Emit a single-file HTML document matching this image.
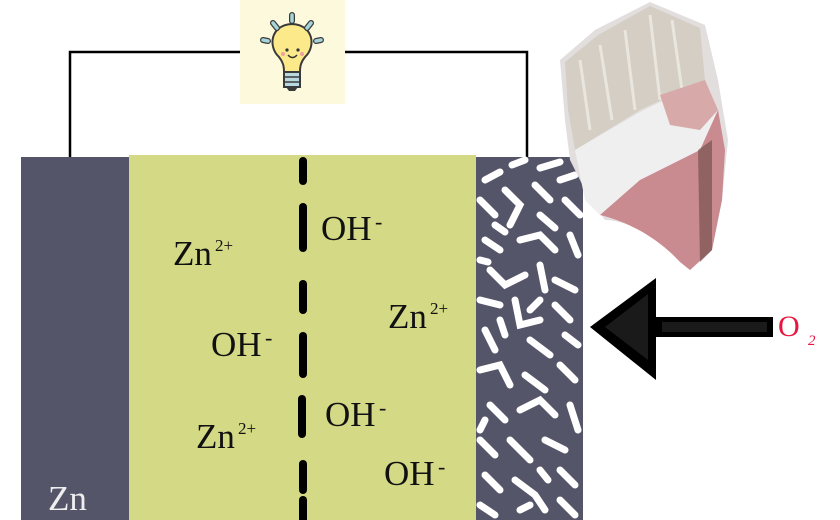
<!DOCTYPE html>
<html><head><meta charset="utf-8"><style>
html,body{margin:0;padding:0;background:#fff;}
body{width:840px;height:520px;overflow:hidden;position:relative;}
svg{position:absolute;left:0;top:0;}
</style></head><body>
<svg width="840" height="520" viewBox="0 0 840 520" xmlns="http://www.w3.org/2000/svg" font-family="Liberation Serif, serif">
<!-- wires -->
<polyline points="70,157 70,52 240,52" fill="none" stroke="#000" stroke-width="2.5"/>
<polyline points="345,52 527,52 527,157" fill="none" stroke="#000" stroke-width="2.5"/>
<!-- bulb box -->
<rect x="240" y="0" width="105" height="104" fill="#fdf9dc"/>
<g stroke="#3a3a3a" stroke-width="2">
<path d="M279,57 C268,47 270,25 292,24 C314,25 316,47 305,57 C301,62 300,66 300,72 L284,72 C284,66 283,62 279,57 Z" fill="#fbe98a"/>
<rect x="284" y="72" width="16" height="15" fill="#b8d8e2"/>
</g>
<g stroke="#3a3a3a" stroke-width="1.5">
<line x1="284" y1="77" x2="300" y2="77"/><line x1="284" y1="82" x2="300" y2="82"/></g>
<path d="M286,87 L298,87 L295,91 L289,91 Z" fill="#3a3a3a"/>
<circle cx="287" cy="50" r="1.6" fill="#333"/><circle cx="298" cy="50" r="1.6" fill="#333"/>
<path d="M288,55 Q292.5,60 297,55" fill="none" stroke="#333" stroke-width="1.5"/>
<circle cx="283" cy="54" r="2" fill="#f0a0a0"/><circle cx="302" cy="54" r="2" fill="#f0a0a0"/>
<g stroke="#3a3a3a" stroke-width="6" stroke-linecap="round"><line x1="292" y1="15" x2="292" y2="21"/><line x1="273" y1="23" x2="277" y2="28"/><line x1="311" y1="23" x2="307" y2="28"/><line x1="263" y1="40" x2="268" y2="41"/><line x1="321" y1="40" x2="316" y2="41"/></g>
<g stroke="#a6d4d8" stroke-width="3.5" stroke-linecap="round"><line x1="292" y1="15" x2="292" y2="21"/><line x1="273" y1="23" x2="277" y2="28"/><line x1="311" y1="23" x2="307" y2="28"/><line x1="263" y1="40" x2="268" y2="41"/><line x1="321" y1="40" x2="316" y2="41"/></g>
<!-- plates -->
<rect x="21" y="157" width="108" height="363" fill="#555569"/>
<rect x="129" y="155" width="347" height="365" fill="#d3d985"/>
<rect x="476" y="157" width="107" height="363" fill="#555569"/>
<!-- porous pattern -->
<g stroke="#fff" stroke-width="7" stroke-linecap="round" fill="none">
<path d="M485,180 L500,172 M512,165 L525,160 M540,168 L560,162 M480,200 L495,215 M505,190 L520,205 L510,225 M535,185 L550,200 M560,180 L575,175 M565,200 L580,215 M485,240 L500,250 M520,240 L540,235 L555,250 M570,235 L578,255 M490,270 L505,285 L525,275 M540,265 L545,290 M555,280 L575,290 M480,300 L500,305 M515,300 L520,325 L540,320 M555,305 L570,320 M485,330 L495,350 M530,340 L550,355 M565,335 L578,345 M480,370 L500,365 L510,385 M525,375 L545,390 M560,365 L575,380 M490,405 L505,420 M520,410 L540,400 L555,415 M570,405 L578,430 M480,440 L495,455 M510,440 L530,460 M545,440 L565,450 M485,475 L500,490 M515,480 L535,495 L545,510 M560,470 L575,485 M480,505 L495,515 M560,500 L575,515 M500,320 L505,335 M540,215 L555,228 M495,225 L505,232 M480,260 L488,262 M530,310 L540,300 M485,420 L480,430 M540,470 L548,480 M520,510 L530,505"/>
</g>
<!-- dashed separator -->
<g stroke="#000" stroke-width="8" stroke-linecap="round">
<line x1="303" y1="161" x2="303" y2="181"/><line x1="303" y1="207" x2="303" y2="248"/><line x1="303" y1="284" x2="303" y2="310"/><line x1="303" y1="336" x2="303" y2="374"/><line x1="302" y1="399" x2="302" y2="434"/><line x1="303" y1="464" x2="303" y2="490"/><line x1="303" y1="500" x2="303" y2="522"/>
</g>
<!-- labels -->
<g font-size="35" fill="#111">
<text x="173" y="265">Zn</text><text x="215" y="251" font-size="17">2+</text>
<text x="321" y="240">OH</text><text x="375" y="229" font-size="22">-</text>
<text x="388" y="328">Zn</text><text x="430" y="314" font-size="17">2+</text>
<text x="211" y="356">OH</text><text x="265" y="345" font-size="22">-</text>
<text x="325" y="426">OH</text><text x="379" y="415" font-size="22">-</text>
<text x="196" y="448">Zn</text><text x="238" y="434" font-size="17">2+</text>
<text x="384" y="485">OH</text><text x="438" y="474" font-size="22">-</text>
</g>
<text x="48" y="510" font-size="35" fill="#eeeeee">Zn</text>
<!-- brush image approximation -->
<path d="M560,60 L595,30 L650,2 L705,25 L718,80 L728,140 L722,200 L712,250 L690,270 L680,262 C660,240 630,220 605,220 L590,200 L570,160 L565,120 Z" fill="#e2dedd"/>
<path d="M565,62 L598,35 L650,6 L700,28 L705,80 L640,110 L575,150 L568,110 Z" fill="#d4cec4"/>
<g stroke="#efece6" stroke-width="3" opacity="0.8"><line x1="580" y1="60" x2="590" y2="130"/><line x1="600" y1="45" x2="612" y2="120"/><line x1="625" y1="30" x2="635" y2="110"/><line x1="650" y1="15" x2="660" y2="100"/><line x1="672" y1="20" x2="682" y2="90"/></g>
<path d="M575,150 L640,112 L705,80 L718,110 L700,150 L640,180 L600,215 L585,200 Z" fill="#efefef"/>
<path d="M600,215 L640,180 L700,150 L718,110 L725,150 L722,200 L712,250 L690,270 L680,262 C660,240 630,222 600,215 Z" fill="#c98a90"/>
<path d="M660,95 L705,80 L718,110 L700,130 L670,125 Z" fill="#d7a9a8"/>
<path d="M698,150 L712,140 L712,250 L700,262 Z" fill="#6b4a44" opacity="0.6"/>
<!-- arrow -->
<path d="M590,327 L656,278 L656,317 L773,317 L773,337 L656,337 L656,380 Z" fill="#000"/>
<path d="M605,327 L648,294 L648,360 Z M662,322 L767,322 L767,332 L662,332 Z" fill="#1a1a1a"/>
<text x="778" y="336" font-size="30" fill="#e8163e">O</text>
<text x="808" y="345" font-size="15" font-style="italic" fill="#e8163e">2</text>
</svg>
</body></html>
